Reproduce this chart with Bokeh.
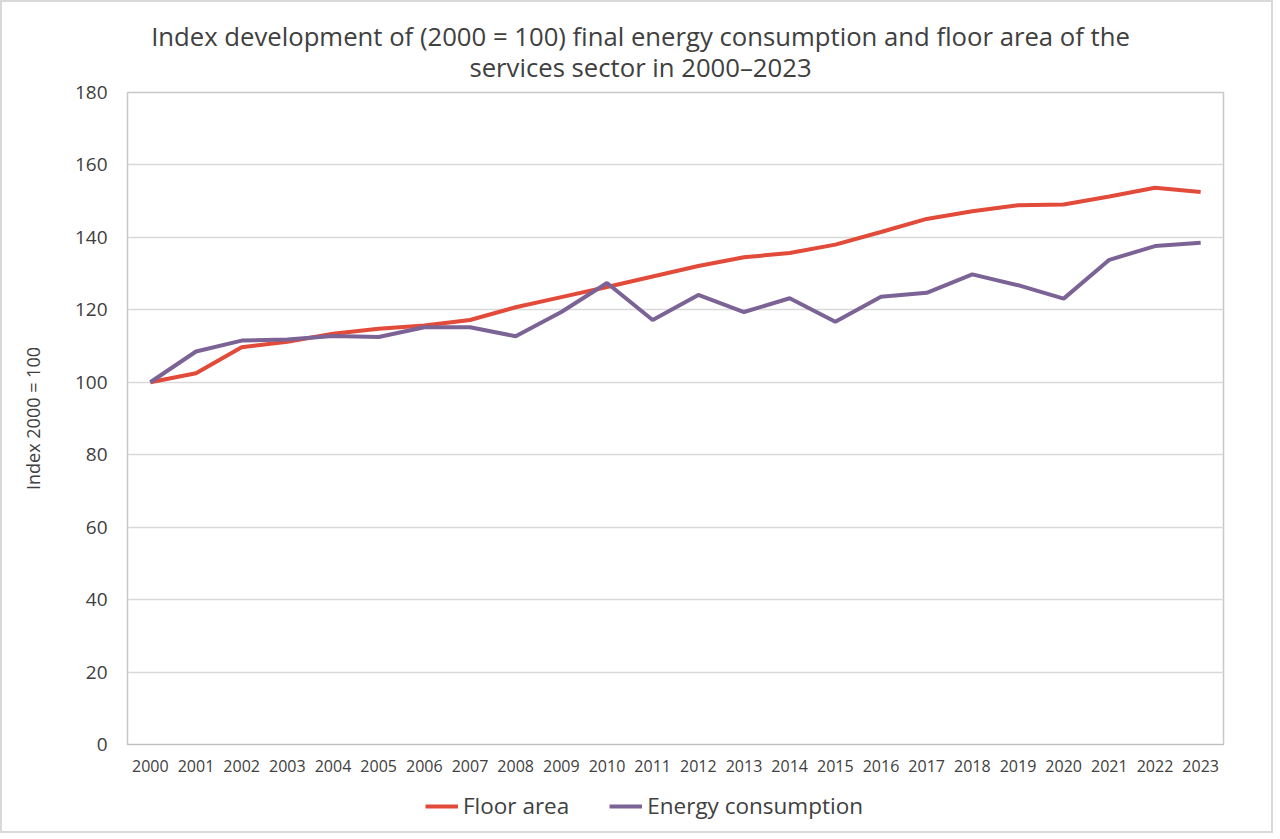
from bokeh.plotting import figure
from bokeh.layouts import column
from bokeh.models import Label, Legend, LegendItem, FixedTicker
from bokeh.embed import file_html
from bokeh.resources import INLINE

years = [str(y) for y in range(2000, 2024)]
floor_area = [100, 102.5, 109.7, 111.2, 113.4, 114.8, 115.7, 117.2, 120.7, 123.5,
              126.3, 129.2, 132.1, 134.5, 135.7, 138.0, 141.5, 145.1, 147.2, 148.9,
              149.1, 151.3, 153.7, 152.5]
energy = [100, 108.5, 111.5, 111.8, 112.8, 112.5, 115.2, 115.2, 112.7, 119.4,
          127.4, 117.2, 124.1, 119.4, 123.2, 116.7, 123.6, 124.7, 129.8, 126.8,
          123.1, 133.8, 137.6, 138.5]
y_ticks = [0, 20, 40, 60, 80, 100, 120, 140, 160, 180]
title_lines = ["Index development of (2000 = 100) final energy consumption and floor area of the",
               "services sector in 2000\u20132023"]
series_names = ["Floor area", "Energy consumption"]

FONT = "Open Sans"
TXT = "#404040"
RED = "#e24a3a"
PURPLE = "#7b6395"
FW, BL, BR = 1096, 125, 48

# ---- title strip ----
pt = figure(frame_width=FW, frame_height=80, x_range=(0, FW), y_range=(0, 80),
            x_axis_type=None, y_axis_type=None, output_backend="svg", toolbar_location=None,
            min_border_left=BL, min_border_right=BR, min_border_top=0, min_border_bottom=0,
            outline_line_color=None)
for txt, yy in zip(title_lines, [46, 15]):
    pt.add_layout(Label(x=513, y=yy, text=txt, text_align="center", text_baseline="middle",
                        text_font=FONT, text_font_size="25.7px", text_color=TXT))

# ---- main chart ----
p = figure(x_range=years, y_range=(0, 180), frame_width=FW, frame_height=652,
           output_backend="svg", toolbar_location=None,
           min_border_left=BL, min_border_right=BR, min_border_top=10, min_border_bottom=40)
p.title = None

r1 = p.line(years, floor_area, line_color=RED, line_width=4)
r2 = p.line(years, energy, line_color=PURPLE, line_width=4)

p.yaxis.ticker = FixedTicker(ticks=y_ticks)
p.yaxis.axis_label = "Index 2000 = 100"
p.yaxis.axis_label_text_font = FONT
p.yaxis.axis_label_text_font_size = "18px"
p.yaxis.axis_label_text_font_style = "normal"
p.yaxis.axis_label_text_color = TXT
p.yaxis.axis_label_standoff = 27
p.yaxis.major_label_text_font = FONT
p.yaxis.major_label_text_font_size = "19px"
p.yaxis.major_label_text_color = TXT
p.yaxis.major_label_standoff = 20

p.xaxis.major_label_text_font = FONT
p.xaxis.major_label_text_font_size = "16px"
p.xaxis.major_label_text_color = TXT
p.xaxis.major_label_standoff = 15

for ax in (p.xaxis, p.yaxis):
    ax.axis_line_color = None
    ax.major_tick_line_color = None
    ax.minor_tick_line_color = None
    ax.major_tick_out = 0
    ax.major_tick_in = 0
    ax.minor_tick_out = 0

p.xaxis.axis_line_color = "#bfbfbf"
p.xaxis.axis_line_width = 1
p.xgrid.grid_line_color = None
p.ygrid.grid_line_color = "#d9d9d9"
p.ygrid.grid_line_width = 1.5
p.outline_line_color = "#c8c8c8"
p.outline_line_width = 1.5

# ---- legend strip (same series, drawn outside its visible range) ----
pl = figure(frame_width=FW, frame_height=47, x_range=years, y_range=(1000, 1001),
            x_axis_type=None, y_axis_type=None, output_backend="svg", toolbar_location=None,
            min_border_left=BL, min_border_right=BR, min_border_top=0, min_border_bottom=0,
            outline_line_color=None)
l1 = pl.line(years, floor_area, line_color=RED, line_width=4)
l2 = pl.line(years, energy, line_color=PURPLE, line_width=4)
legend = Legend(items=[LegendItem(label=series_names[0], renderers=[l1]),
                       LegendItem(label=series_names[1], renderers=[l2])],
                orientation="horizontal", location=(298, 10),
                label_text_font=FONT, label_text_font_size="22.5px", label_text_color=TXT,
                glyph_width=33, glyph_height=20, spacing=40, label_standoff=5,
                border_line_color=None, background_fill_alpha=0, margin=0, padding=0)
pl.add_layout(legend, "center")

layout = column(pt, p, pl, spacing=0, styles={"border": "2px solid #d9d9d9"})
open("out.html", "w").write(file_html(layout, INLINE))
